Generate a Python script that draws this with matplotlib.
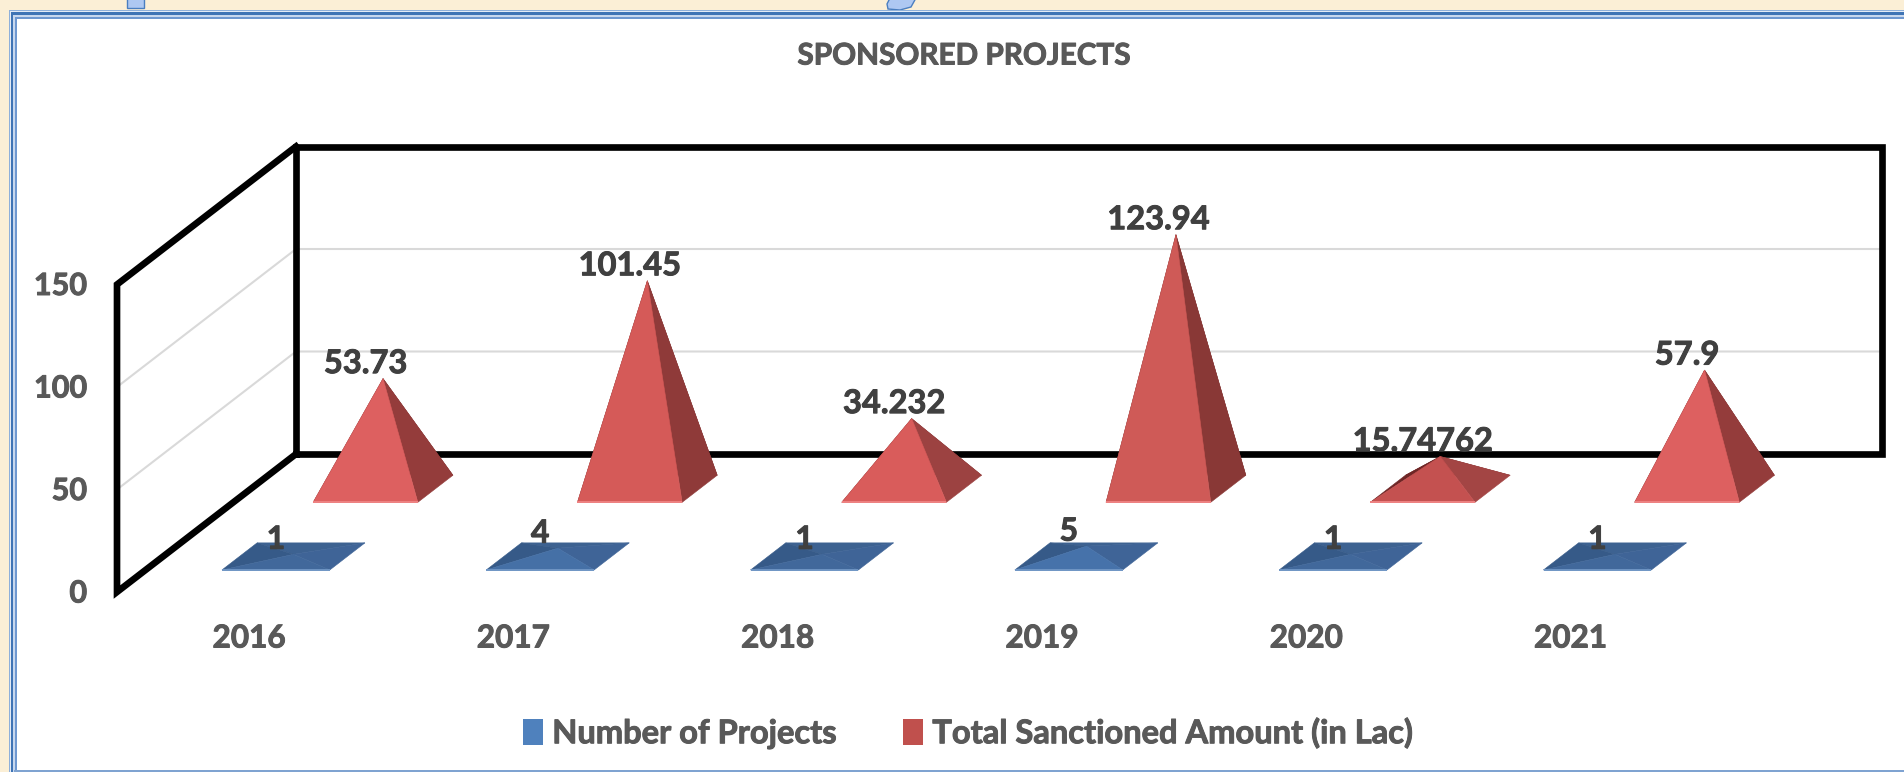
import matplotlib
matplotlib.use("Agg")
import matplotlib.pyplot as plt
import matplotlib.patheffects as pe
from matplotlib.patches import Polygon, Rectangle, Patch

plt.rcParams["font.family"] = ["Lato", "DejaVu Sans"]

years = ["2016", "2017", "2018", "2019", "2020", "2021"]
num_projects = [1, 4, 1, 5, 1, 1]
amount = [53.73, 101.45, 34.232, 123.94, 15.74762, 57.9]
amount_labels = ["53.73", "101.45", "34.232", "123.94", "15.74762", "57.9"]
value_ticks = [0, 50, 100, 150]

# oblique floor/wall layout, in pixels of the 1904x772 picture
x0, y0 = 117, 592
cat_w = 264.3
depth_dx, depth_dy = 179, 138
px_per_unit = 2.05


def project(cat, depth, val):
    return (x0 + cat_w * cat + depth_dx * depth, y0 - depth_dy * depth - px_per_unit * val)


def heavy(col):
    # Lato bold is a bit lighter than the chart's font
    return [pe.withStroke(linewidth=0.7, foreground=col)]


def pyramid(ax, c, val, depth, half_d, half_w, shades, rim):
    fl = project(c - half_w, depth - half_d, 0)
    fr = project(c + half_w, depth - half_d, 0)
    bl = project(c - half_w, depth + half_d, 0)
    br = project(c + half_w, depth + half_d, 0)
    apex = project(c, depth, val)
    faces = [[bl, br, apex], [fl, bl, apex], [fr, br, apex], [fl, fr, apex]]
    for pts, col in zip(faces, shades):
        ax.add_patch(Polygon(pts, closed=True, fc=col, ec=col, lw=0.4, zorder=4))
    ax.plot([fl[0], fr[0]], [fl[1], fr[1]], color=rim, lw=1.4, zorder=5, solid_capstyle="butt")
    return apex, (fl[0] + fr[0]) / 2


fig = plt.figure(figsize=(19.04, 7.72), dpi=100, facecolor="#fbefd6")
ax = fig.add_axes([0, 0, 1, 1])
ax.set_xlim(0, 1904)
ax.set_ylim(772, 0)
ax.axis("off")

# cut off letters of the slide heading above the chart
ax.add_patch(Polygon([(127, -2), (144, -2), (144, 8), (127, 8)], fc="#aec8f2", ec="#4a7ec0", lw=1))
ax.add_patch(Polygon([(890, -2), (916, -2), (911, 7), (900, 10), (888, 9), (887, 4)], fc="#aec8f2", ec="#4a7ec0", lw=1))

# frame of the chart box, no right side in view
bands = [(9, 9.5, "#8fb0da"), (10, 11, "#e3ebf6"), (11, 12, "#3f74b5"),
         (13, 15, "#c8d8ee"), (14.5, 17, "#6f98d0"), (16.5, 19, "#ffffff")]
for bx, by, col in bands:
    ax.add_patch(Rectangle((bx, by), 1904 - bx, 772 - by, fc=col, ec="none"))
ax.add_patch(Rectangle((14, 769.5), 1890, 2.5, fc="#7fa3d1", ec="none"))

# walls
for v in value_ticks[1:-1]:
    a = project(0, 0, v)
    b = project(0, 1, v)
    c = project(6, 1, v)
    ax.plot([a[0], b[0], c[0]], [a[1], b[1], c[1]], color="#d9d9d9", lw=1.5, zorder=1)

wall = [project(0, 1, 0), project(6, 1, 0), project(6, 1, value_ticks[-1]),
        project(0, 1, value_ticks[-1]), project(0, 1, 0)]
ax.plot([p[0] for p in wall], [p[1] for p in wall], color="black", lw=4.8, zorder=2, solid_joinstyle="miter")
side = [project(0, 1, value_ticks[-1]), project(0, 0, value_ticks[-1]), project(0, 0, 0), project(0, 1, 0)]
ax.plot([p[0] for p in side], [p[1] for p in side], color="black", lw=4.8, zorder=2, solid_joinstyle="miter")

for v in value_ticks:
    ax.text(87, project(0, 0, v)[1] + 1.5, str(v), ha="right", va="center", fontsize=22,
            fontweight="bold", color="#595959", path_effects=heavy("#595959"))

# back, left, right, front
blue_shades = [
    ["#3d6291", "#365a88", "#3f6497", "#41689b"],
    ["#3d6291", "#365a88", "#3f6497", "#4570a6"],
    ["#3d6291", "#365a88", "#3f6497", "#41689b"],
    ["#3d6291", "#365a88", "#3f6497", "#4672aa"],
    ["#3d6291", "#365a88", "#3f6497", "#41689b"],
    ["#3d6291", "#365a88", "#3f6497", "#41689b"],
]
red_shades = [
    ["#7a2c2c", "#6e2626", "#943c3b", "#dd6060"],
    ["#7a2c2c", "#6e2626", "#8f3a39", "#d55a58"],
    ["#7a2c2c", "#6e2626", "#9c4241", "#d95c5b"],
    ["#7a2c2c", "#6e2626", "#893836", "#cf5a57"],
    ["#7a2c2c", "#6e2626", "#a34544", "#c45150"],
    ["#7a2c2c", "#6e2626", "#943c3b", "#dd6060"],
]

for i, year in enumerate(years):
    apex, mid = pyramid(ax, i + 0.493, num_projects[i], 0.258, 0.098, 0.204, blue_shades[i], "#6f95c4")
    ax.text(mid, apex[1] - 15, str(num_projects[i]), ha="center", va="center", fontsize=23,
            fontweight="bold", color="#404040", zorder=6, path_effects=heavy("#404040"))
    apex, mid = pyramid(ax, i + 0.5, amount[i], 0.748, 0.098, 0.198, red_shades[i], "#ee8282")
    ax.text(mid, apex[1] - 15, amount_labels[i], ha="center", va="center", fontsize=23.5,
            fontweight="bold", color="#404040", zorder=6, path_effects=heavy("#404040"))
    ax.text(x0 + cat_w * (i + 0.5), 638, year, ha="center", va="center", fontsize=22.7,
            fontweight="bold", color="#595959", path_effects=heavy("#595959"))

ax.text(964, 55.5, "SPONSORED PROJECTS", ha="center", va="center", fontsize=21.4,
        fontweight="bold", color="#595959", path_effects=heavy("#595959"))

handles = [Patch(fc="#4f81bd", ec="none"), Patch(fc="#c0504d", ec="none")]
leg = ax.legend(handles, ["Number of Projects", "Total Sanctioned Amount (in Lac)"],
                loc="center", bbox_to_anchor=(968 / 1904, 1 - 733 / 772), ncol=2, frameon=False,
                prop={"size": 23.5, "weight": "bold"}, labelcolor="#595959",
                handlelength=0.61, handleheight=0.85, handletextpad=0.28, columnspacing=2.05)
for t in leg.get_texts():
    t.set_path_effects(heavy("#595959"))

plt.savefig("out.png", dpi=100)
